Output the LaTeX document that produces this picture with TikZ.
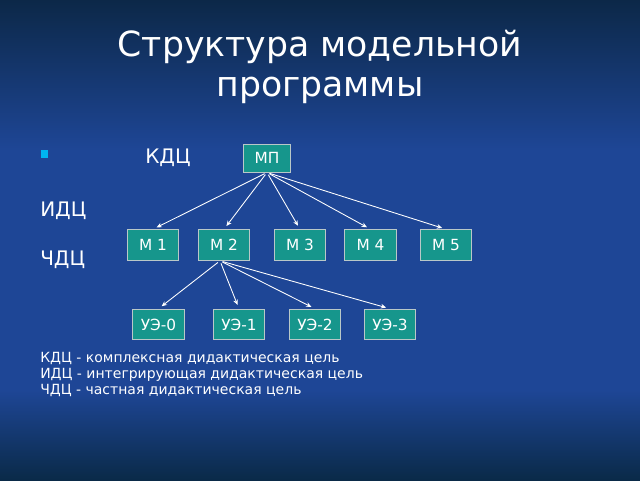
\documentclass[tikz,border=0pt]{standalone}
\usepackage{fontspec}
\setmainfont{DejaVu Sans}
\usetikzlibrary{arrows.meta}

\definecolor{slidetop}{RGB}{12,40,72}
\definecolor{slidemid}{RGB}{30,70,150}
\definecolor{slidebot}{RGB}{10,42,72}
\definecolor{boxfill}{RGB}{22,150,140}
\definecolor{boxline}{RGB}{185,200,200}
\definecolor{bulletcol}{RGB}{0,180,240}

\tikzset{
	mbox/.style={draw=boxline, fill=boxfill, text=white, line width=0.7pt, inner sep=0pt,
		minimum width=38.5pt, minimum height=23pt, font=\fontsize{11.5}{13}\selectfont},
	link/.style={draw=white, line width=0.65pt, -{Stealth[length=4pt,width=3.5pt]},
		shorten <=2pt, shorten >=3pt},
	sidetext/.style={text=white, anchor=base west, inner sep=0pt, font=\fontsize{15}{17}\selectfont}
}

\begin{document}
\begin{tikzpicture}[x=0.75pt, y=-0.75pt]
	\fill[slidemid] (0, 0) rectangle (640, 480);
	\shade[top color=slidetop, bottom color=slidemid] (0, 0) rectangle (640, 150);
	\shade[top color=slidemid, bottom color=slidebot] (0, 390) rectangle (640, 480);
	\useasboundingbox (0, 0) rectangle (640, 480);

	\node[text=white, align=center, anchor=north, inner sep=0pt, font=\fontsize{26}{30}\selectfont] (title) at (320, 30) {Структура модельной\\программы};

	\node[fill=bulletcol, minimum size=5.5pt, inner sep=0pt] (bullet) at (44.5, 154) {};
	\node[sidetext] (kdc) at (145, 163) {КДЦ};
	\node[sidetext] (idc) at (40, 216) {ИДЦ};
	\node[sidetext] (chdc) at (40, 265) {ЧДЦ};

	\node[mbox, minimum width=35pt, minimum height=21pt] (mp) at (267, 158) {МП};

	\node[mbox] (m1) at (153, 245) {М 1};
	\node[mbox] (m2) at (224, 245) {М 2};
	\node[mbox] (m3) at (300, 245) {М 3};
	\node[mbox] (m4) at (370.5, 245) {М 4};
	\node[mbox] (m5) at (446, 245) {М 5};

	\node[mbox] (ue0) at (158.5, 324.5) {УЭ-0};
	\node[mbox] (ue1) at (239, 324.5) {УЭ-1};
	\node[mbox] (ue2) at (315, 324.5) {УЭ-2};
	\node[mbox] (ue3) at (390, 324.5) {УЭ-3};

	\foreach \m in {m1, m2, m3, m4, m5}
		\draw[link] (mp.south) -- (\m.north);
	\foreach \u in {ue0, ue1, ue2, ue3}
		\draw[link] ([xshift=-3pt]m2.south) -- (\u.north);

	\node[text=white, align=left, anchor=north west, inner sep=0pt, font=\fontsize{10.5}{12}\selectfont] (legend) at (40, 352) {КДЦ - комплексная дидактическая цель\\ИДЦ - интегрирующая дидактическая цель\\ЧДЦ - частная дидактическая цель};
\end{tikzpicture}
\end{document}
